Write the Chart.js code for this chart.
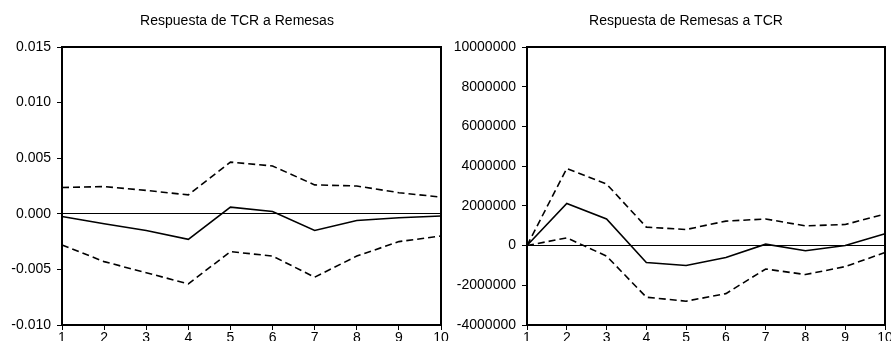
<!DOCTYPE html>
<html>
<head>
<meta charset="utf-8">
<script src="https://cdn.jsdelivr.net/npm/chart.js@4.4.0/dist/chart.umd.min.js"></script>
<style>
  html, body { margin: 0; padding: 0; background: #fff; }
  #wrap { position: relative; width: 891px; height: 341px; overflow: hidden; }
  .box { position: absolute; top: 0; height: 341px; }
</style>
</head>
<body>
<div id="wrap">
  <div class="box" style="left:0; width:455px;"><canvas id="tcrChart"></canvas></div>
  <div class="box" style="left:445px; width:446px;"><canvas id="remChart"></canvas></div>
</div>
<script>
// --- datos ---
const periods = ['1', '2', '3', '4', '5', '6', '7', '8', '9', '10'];

const tcrResp  = [-0.00025, -0.0009, -0.0015, -0.0023, 0.0006, 0.0002, -0.0015, -0.0006, -0.00035, -0.0002];
const tcrUpper = [0.00236, 0.00245, 0.0021, 0.0017, 0.00465, 0.0043, 0.0026, 0.0025, 0.0019, 0.0015];
const tcrLower = [-0.0028, -0.0043, -0.0053, -0.0063, -0.0034, -0.0038, -0.0057, -0.0038, -0.0025, -0.002];

const remResp  = [0, 2120000, 1340000, -850000, -1000000, -600000, 70000, -260000, 0, 600000];
const remUpper = [0, 3880000, 3100000, 930000, 810000, 1230000, 1340000, 990000, 1060000, 1590000];
const remLower = [0, 390000, -530000, -2600000, -2800000, -2420000, -1180000, -1460000, -1060000, -350000];

const tcrTicks = { min: -0.010, max: 0.015, step: 0.005 };
const remTicks = { min: -4000000, max: 10000000, step: 2000000 };

const FONT = 'Liberation Sans, Arial, sans-serif';

// marco negro alrededor del area del grafico + titulo
const framePlugin = {
  id: 'frame',
  afterDraw(chart, args, opts) {
    const a = chart.chartArea, c = chart.ctx;
    c.save();
    c.strokeStyle = '#000';
    c.lineWidth = 2;
    c.strokeRect(a.left, a.top, a.right - a.left, a.bottom - a.top);
    c.fillStyle = '#000';
    c.font = '14px ' + FONT;
    c.textAlign = 'center';
    c.textBaseline = 'middle';
    c.fillText(opts.title, opts.titleX, 21);
    c.restore();
  }
};

function makeChart(id, title, titleX, resp, upper, lower, t, fmt, pad, yWidth) {
  const line = (d, dashed) => ({
    data: d,
    borderColor: '#000',
    borderWidth: 1.6,
    borderDash: dashed ? [7, 4] : [],
    pointRadius: 0,
    tension: 0,
    fill: false
  });
  return new Chart(document.getElementById(id), {
    type: 'line',
    data: {
      labels: periods,
      datasets: [line(upper, true), line(resp, false), line(lower, true)]
    },
    options: {
      responsive: true,
      maintainAspectRatio: false,
      animation: false,
      layout: { padding: { left: pad.left, right: pad.right, top: 47, bottom: 0 } },
      plugins: {
        legend: { display: false },
        tooltip: { enabled: false },
        title: { display: false },
        frame: { title: title, titleX: titleX }
      },
      scales: {
        x: {
          border: { display: false },
          grid: { drawOnChartArea: false, drawTicks: true, tickLength: 5, tickColor: '#000', tickWidth: 1 },
          ticks: { color: '#000', font: { family: FONT, size: 14 }, padding: 0, maxRotation: 0, autoSkip: false },
          afterFit(s) { s.height = 16; s.paddingLeft = 0; s.paddingRight = 0; }
        },
        y: {
          min: t.min,
          max: t.max,
          border: { display: false },
          grid: {
            drawTicks: true,
            tickLength: 5,
            tickColor: '#000',
            tickWidth: 1,
            lineWidth: 1,
            color: ctx => (ctx.tick && Math.abs(ctx.tick.value) < t.step / 1000) ? '#000' : 'rgba(0,0,0,0)'
          },
          ticks: { stepSize: t.step, color: '#000', font: { family: FONT, size: 14 }, padding: 6, callback: fmt },
          afterFit(s) { s.width = yWidth; s.paddingTop = 0; s.paddingBottom = 0; }
        }
      }
    },
    plugins: [framePlugin]
  });
}

makeChart('tcrChart', 'Respuesta de TCR a Remesas', 237, tcrResp, tcrUpper, tcrLower, tcrTicks,
  v => Number(v).toFixed(3), { left: 4, right: 14 }, 58);

makeChart('remChart', 'Respuesta de Remesas a TCR', 241, remResp, remUpper, remLower, remTicks,
  v => Math.round(v).toString(), { left: 4, right: 6 }, 78);
</script>
</body>
</html>
